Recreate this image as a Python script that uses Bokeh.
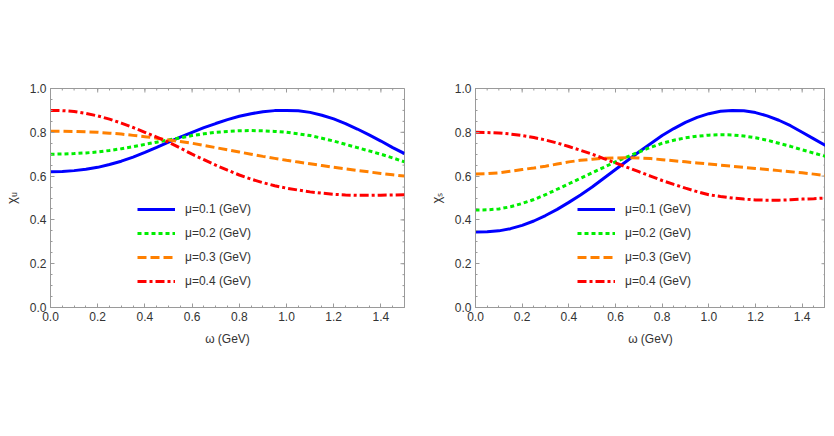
import math
from bokeh.plotting import figure
from bokeh.layouts import row
from bokeh.models import Range1d, FixedTicker, Legend, LegendItem, NumeralTickFormatter
from bokeh.embed import file_html
from bokeh.resources import INLINE

omega = [0.0, 0.05, 0.1, 0.15, 0.2, 0.25, 0.3, 0.35, 0.4, 0.45, 0.5, 0.55, 0.6, 0.65, 0.7, 0.75,
         0.8, 0.85, 0.9, 0.95, 1.0, 1.05, 1.1, 1.15, 1.2, 1.25, 1.3, 1.35, 1.4, 1.45, 1.5]

chi_u_01 = [0.620, 0.621, 0.625, 0.631, 0.640, 0.653, 0.668, 0.687, 0.708, 0.731, 0.755, 0.778, 0.800, 0.821, 0.840, 0.858,
            0.873, 0.885, 0.894, 0.899, 0.900, 0.898, 0.891, 0.878, 0.861, 0.840, 0.815, 0.788, 0.760, 0.730, 0.703]
chi_u_02 = [0.700, 0.701, 0.703, 0.706, 0.710, 0.717, 0.725, 0.734, 0.745, 0.755, 0.765, 0.775, 0.785, 0.793, 0.800, 0.804,
            0.807, 0.808, 0.807, 0.804, 0.800, 0.793, 0.785, 0.773, 0.760, 0.745, 0.730, 0.715, 0.700, 0.683, 0.665]
chi_u_03 = [0.805, 0.805, 0.804, 0.802, 0.800, 0.796, 0.792, 0.786, 0.780, 0.773, 0.765, 0.758, 0.750, 0.740, 0.730, 0.720,
            0.710, 0.700, 0.690, 0.681, 0.672, 0.664, 0.656, 0.648, 0.640, 0.633, 0.626, 0.619, 0.612, 0.606, 0.600]
chi_u_04 = [0.900, 0.899, 0.895, 0.886, 0.875, 0.860, 0.842, 0.822, 0.800, 0.778, 0.755, 0.728, 0.700, 0.675, 0.650, 0.627,
            0.605, 0.586, 0.570, 0.556, 0.545, 0.536, 0.528, 0.522, 0.517, 0.514, 0.512, 0.512, 0.513, 0.514, 0.515]

chi_s_01 = [0.345, 0.346, 0.350, 0.360, 0.375, 0.395, 0.420, 0.448, 0.480, 0.514, 0.550, 0.590, 0.630, 0.670, 0.710, 0.748,
            0.785, 0.817, 0.845, 0.868, 0.885, 0.896, 0.900, 0.898, 0.890, 0.875, 0.855, 0.830, 0.800, 0.770, 0.740]
chi_s_02 = [0.445, 0.446, 0.450, 0.460, 0.475, 0.493, 0.515, 0.540, 0.565, 0.590, 0.615, 0.640, 0.665, 0.688, 0.710, 0.731,
            0.750, 0.764, 0.775, 0.782, 0.787, 0.789, 0.788, 0.783, 0.775, 0.764, 0.750, 0.736, 0.720, 0.705, 0.690]
chi_s_03 = [0.610, 0.611, 0.615, 0.622, 0.630, 0.637, 0.645, 0.655, 0.665, 0.672, 0.677, 0.681, 0.683, 0.684, 0.683, 0.680,
            0.675, 0.670, 0.665, 0.660, 0.655, 0.650, 0.645, 0.640, 0.635, 0.630, 0.625, 0.620, 0.615, 0.609, 0.603]
chi_s_04 = [0.800, 0.799, 0.797, 0.792, 0.785, 0.776, 0.765, 0.751, 0.735, 0.718, 0.700, 0.680, 0.660, 0.640, 0.620, 0.600,
            0.580, 0.562, 0.545, 0.529, 0.515, 0.507, 0.500, 0.495, 0.491, 0.490, 0.490, 0.492, 0.495, 0.497, 0.500]

labels = ["\u03bc=0.1 (GeV)", "\u03bc=0.2 (GeV)", "\u03bc=0.3 (GeV)", "\u03bc=0.4 (GeV)"]
x_ticks = [0.0, 0.2, 0.4, 0.6, 0.8, 1.0, 1.2, 1.4]
y_ticks = [0.0, 0.2, 0.4, 0.6, 0.8, 1.0]
x_minor = [round(i * 0.05, 2) for i in range(0, 31)]
y_minor = [round(i * 0.05, 2) for i in range(0, 21)]

colors = ["#0000ff", "#00ee00", "#ff8000", "#ff0000"]
dashes = ["solid", "4 3", "9 4", "9 3 3 3"]

FONT = "Liberation Sans"
FRAME = "#9a9a9a"


def style_axis(ax, ticks, minor):
    ax.ticker = FixedTicker(ticks=ticks, minor_ticks=minor)
    ax.formatter = NumeralTickFormatter(format="0.0")
    ax.axis_line_color = FRAME
    ax.major_tick_line_color = FRAME
    ax.minor_tick_line_color = FRAME
    ax.major_tick_in = 4
    ax.major_tick_out = 0
    ax.minor_tick_in = 2
    ax.minor_tick_out = 0
    ax.major_label_text_font = FONT
    ax.major_label_text_font_size = "12px"
    ax.major_label_text_color = "#333333"
    ax.axis_label_text_font = FONT
    ax.axis_label_text_font_size = "12px"
    ax.axis_label_text_font_style = "normal"
    ax.axis_label_text_color = "#333333"
    ax.major_label_standoff = 4


def make(ys, ylabel, width, bl, br, legend_x):
    p = figure(width=width, height=420, output_backend="svg", toolbar_location=None,
               x_range=Range1d(0, 1.5), y_range=Range1d(0, 1.0),
               min_border_left=bl, min_border_right=br, min_border_top=88, min_border_bottom=113)
    p.xaxis.axis_label = "\u03c9 (GeV)"
    p.yaxis.axis_label = ylabel
    style_axis(p.xaxis[0], x_ticks, x_minor)
    style_axis(p.yaxis[0], y_ticks, y_minor)
    p.xaxis.axis_label_standoff = 8
    p.yaxis.axis_label_standoff = 8
    p.yaxis.axis_label_text_font_size = "13px"
    # mirrored inward ticks on top and right frame edges
    xe, ye = p.x_range.end, p.y_range.end
    p.ray(x=x_ticks, y=[ye] * len(x_ticks), length=4, angle=-math.pi / 2, length_units="screen",
          line_color=FRAME, line_width=1)
    p.ray(x=x_minor, y=[ye] * len(x_minor), length=2, angle=-math.pi / 2, length_units="screen",
          line_color=FRAME, line_width=1)
    p.ray(x=[xe] * len(y_ticks), y=y_ticks, length=4, angle=math.pi, length_units="screen",
          line_color=FRAME, line_width=1)
    p.ray(x=[xe] * len(y_minor), y=y_minor, length=2, angle=math.pi, length_units="screen",
          line_color=FRAME, line_width=1)
    p.grid.visible = False
    p.outline_line_color = FRAME
    p.background_fill_color = "white"
    p.border_fill_color = "white"
    items = []
    for y, c, d, lab in zip(ys, colors, dashes, labels):
        r = p.line(omega, y, line_color=c, line_width=3, line_dash=d)
        items.append(LegendItem(label=lab, renderers=[r]))
    leg = Legend(items=items, location=(legend_x, 16), padding=0, margin=0, spacing=4,
                 glyph_width=38, glyph_height=20, label_height=20, label_standoff=10,
                 label_text_font=FONT, label_text_font_size="12px", label_text_color="#333333",
                 border_line_color=None, background_fill_alpha=0)
    p.add_layout(leg, "center")
    return p


p1 = make([chi_u_01, chi_u_02, chi_u_03, chi_u_04], "\u03c7\u1d64", 425, 40, 21, 87)
p2 = make([chi_s_01, chi_s_02, chi_s_03, chi_s_04], "\u03c7\u209b", 400, 45, 0, 102)
layout = row(p1, p2)
open("out.html", "w").write(file_html(layout, INLINE))
